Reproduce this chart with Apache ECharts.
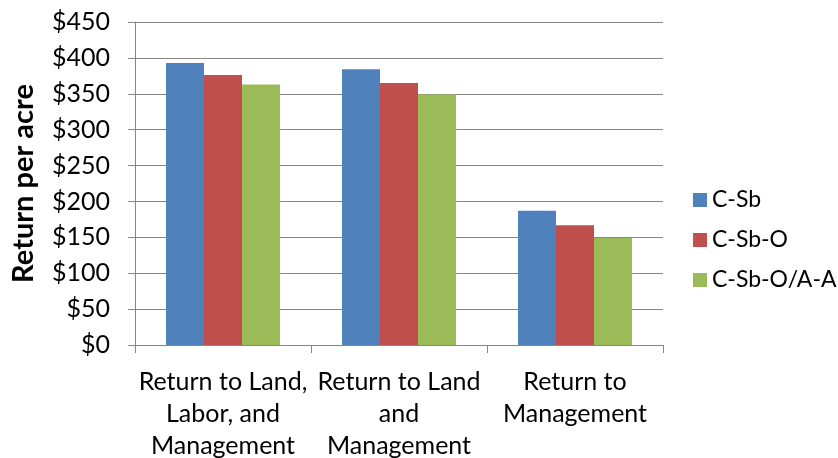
<!DOCTYPE html>
<html>
<head>
<meta charset="utf-8">
<script src="https://cdn.jsdelivr.net/npm/echarts@6/dist/echarts.min.js"></script>
<style>
  html, body { margin: 0; padding: 0; background: #fff; }
  #chart { width: 838px; height: 458px; }
</style>
</head>
<body>
<div id="chart"></div>
<script>
// 类目与数据
var categories = ['Return to Land,\nLabor, and\nManagement', 'Return to Land\nand\nManagement', 'Return to\nManagement'];
var seriesNames = ['C-Sb', 'C-Sb-O', 'C-Sb-O/A-A'];
var cSb = [393, 384, 187];
var cSbO = [376, 365, 167];
var cSbOAA = [363, 349, 149];
var colors = ['#4F81BD', '#C0504D', '#9BBB59'];

var font = 'Lato, "Liberation Sans", sans-serif';
var myChart = echarts.init(document.getElementById('chart'));

function makeSeries(name, data, color) {
  return {
    name: name,
    type: 'bar',
    data: data,
    barWidth: 38,
    barGap: '0%',
    itemStyle: { color: color },
    emphasis: { disabled: true }
  };
}

var option = {
  animation: false,
  textStyle: { fontFamily: font },
  grid: { left: 135, right: 175, top: 22, bottom: 113, outerBoundsMode: 'none' },
  legend: {
    orient: 'vertical',
    left: 688,
    top: 182,
    itemWidth: 14,
    itemHeight: 14,
    itemGap: 14,
    icon: 'rect',
    textStyle: { fontSize: 23, lineHeight: 26, color: '#000', fontFamily: font },
    data: seriesNames
  },
  xAxis: {
    type: 'category',
    data: categories,
    axisLine: { lineStyle: { color: '#868686' } },
    axisTick: { show: true, length: 8, lineStyle: { color: '#868686' } },
    axisLabel: { color: '#000', fontSize: 25, lineHeight: 32, margin: 21, interval: 0 }
  },
  yAxis: {
    type: 'value',
    min: 0,
    max: 450,
    interval: 50,
    name: 'Return per acre',
    nameLocation: 'middle',
    nameGap: 97,
    nameTextStyle: { fontSize: 29, fontWeight: 'bold', color: '#000' },
    axisLine: { show: true, lineStyle: { color: '#868686' } },
    axisTick: { show: true, length: 7, lineStyle: { color: '#868686' } },
    splitLine: { lineStyle: { color: '#868686' } },
    axisLabel: { color: '#000', fontSize: 25, margin: 25, formatter: '${value}' }
  },
  series: [
    makeSeries(seriesNames[0], cSb, colors[0]),
    makeSeries(seriesNames[1], cSbO, colors[1]),
    makeSeries(seriesNames[2], cSbOAA, colors[2])
  ]
};
myChart.setOption(option);
</script>
</body>
</html>
